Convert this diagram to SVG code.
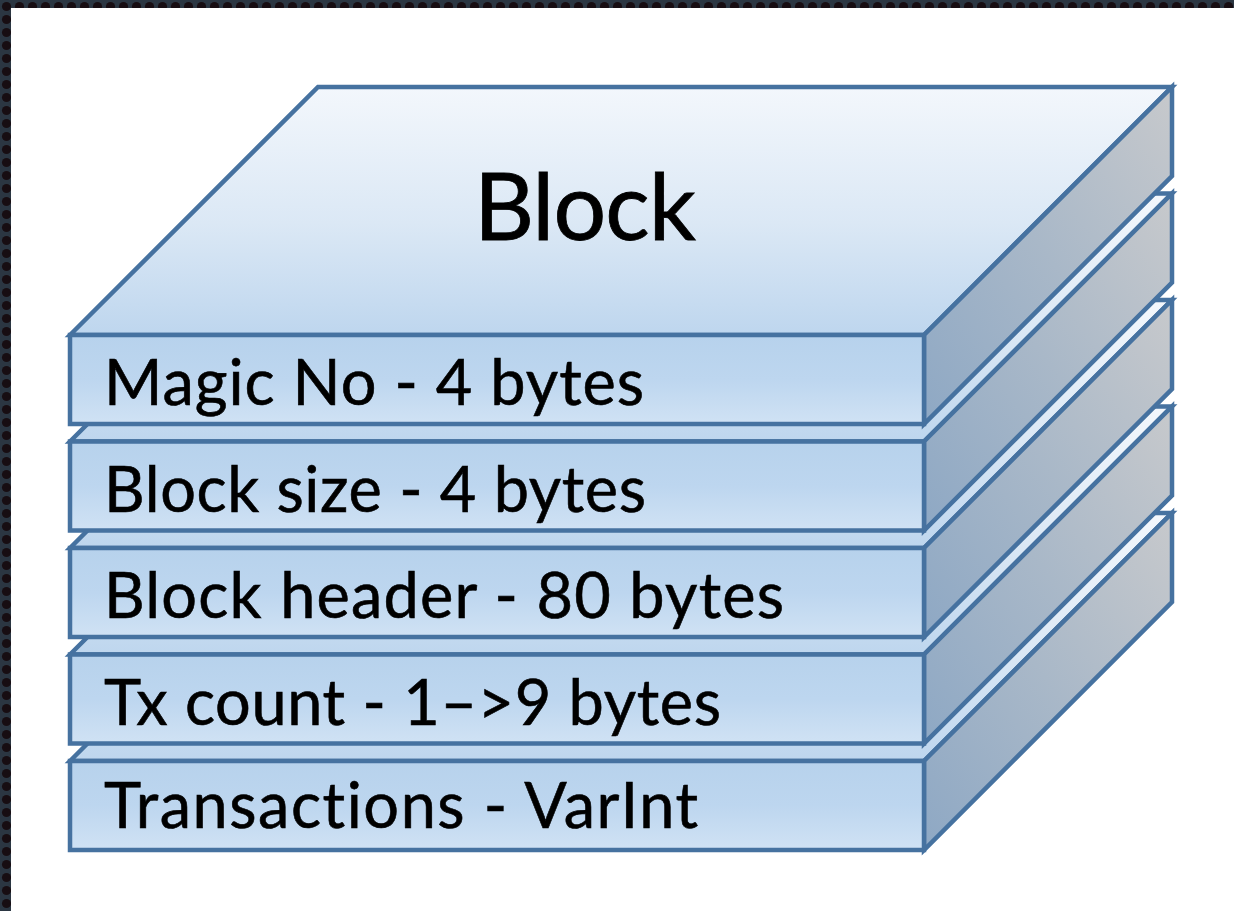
<svg xmlns="http://www.w3.org/2000/svg" width="1234" height="911" viewBox="0 0 1234 911">
  <defs>
    <pattern id="dots" width="13" height="13" patternUnits="userSpaceOnUse">
      <rect width="13" height="13" fill="#2b3642"/>
      <circle cx="6.5" cy="6.5" r="4.6" fill="#170d12"/>
    </pattern>
    <linearGradient id="gTop" x1="0" y1="0" x2="0" y2="1">
      <stop offset="0" stop-color="#f3f7fc"/>
      <stop offset="0.55" stop-color="#dbe8f5"/>
      <stop offset="1" stop-color="#bed6ee"/>
    </linearGradient>
    <linearGradient id="gFront" x1="0" y1="0" x2="0" y2="1">
      <stop offset="0" stop-color="#b7d2ec"/>
      <stop offset="0.5" stop-color="#bdd6ef"/>
      <stop offset="1" stop-color="#d0e2f4"/>
    </linearGradient>
    <linearGradient id="gSide" x1="1" y1="0" x2="0" y2="1">
      <stop offset="0" stop-color="#c7c9cc"/>
      <stop offset="0.5" stop-color="#a9b8c8"/>
      <stop offset="1" stop-color="#8ea8c4"/>
    </linearGradient>
  </defs>
  <style>
    .edge { stroke: #4672a0; stroke-width: 4.5; stroke-linejoin: miter; }
    .top { fill: url(#gTop); }
    .side { fill: url(#gSide); }
    .front { fill: url(#gFront); }
    .lbl { font-family: Lato, "Liberation Sans", sans-serif; font-size: 63px; fill: #000; stroke: #000; stroke-width: 0.6; font-variant-ligatures: none; }
    .title { font-family: Lato, "Liberation Sans", sans-serif; font-size: 93px; fill: #000; stroke: #000; stroke-width: 0.8; font-variant-ligatures: none; }
  </style>

  <!-- frame -->
  <rect x="0" y="0" width="1234" height="911" fill="url(#dots)"/>
  <rect x="11" y="8" width="1223" height="903" fill="#ffffff"/>

  <!-- Transactions (bottom layer) -->
  <g id="layer-transactions" transform="translate(0,426)">
    <path class="top edge" d="M70,335 L318,87 L1172,87 L924,335 Z"/>
    <path class="side edge" d="M924,335 L1172,87 L1172,176 L924,424 Z"/>
    <rect class="front edge" x="70" y="335" width="854" height="89"/>
    <text class="lbl" x="104" y="402" textLength="594">Transactions - VarInt</text>
  </g>

  <!-- Tx count -->
  <g id="layer-txcount" transform="translate(0,319.5)">
    <path class="top edge" d="M70,335 L318,87 L1172,87 L924,335 Z"/>
    <path class="side edge" d="M924,335 L1172,87 L1172,176 L924,424 Z"/>
    <rect class="front edge" x="70" y="335" width="854" height="89"/>
    <text class="lbl" x="104" y="405" textLength="617">Tx count - 1–&gt;9 bytes</text>
  </g>

  <!-- Block header -->
  <g id="layer-header" transform="translate(0,213)">
    <path class="top edge" d="M70,335 L318,87 L1172,87 L924,335 Z"/>
    <path class="side edge" d="M924,335 L1172,87 L1172,176 L924,424 Z"/>
    <rect class="front edge" x="70" y="335" width="854" height="89"/>
    <text class="lbl" x="104" y="405" textLength="680">Block header - 80 bytes</text>
  </g>

  <!-- Block size -->
  <g id="layer-size" transform="translate(0,106.5)">
    <path class="top edge" d="M70,335 L318,87 L1172,87 L924,335 Z"/>
    <path class="side edge" d="M924,335 L1172,87 L1172,176 L924,424 Z"/>
    <rect class="front edge" x="70" y="335" width="854" height="89"/>
    <text class="lbl" x="104" y="405" textLength="542">Block size - 4 bytes</text>
  </g>

  <!-- Magic No (top layer with Block title) -->
  <g id="layer-magic">
    <path class="top edge" d="M70,335 L318,87 L1172,87 L924,335 Z"/>
    <path class="side edge" d="M924,335 L1172,87 L1172,176 L924,424 Z"/>
    <rect class="front edge" x="70" y="335" width="854" height="89"/>
    <text class="lbl" x="104" y="405" textLength="540">Magic No - 4 bytes</text>
    <text class="title" x="474" y="240" textLength="222">Block</text>
  </g>
</svg>
